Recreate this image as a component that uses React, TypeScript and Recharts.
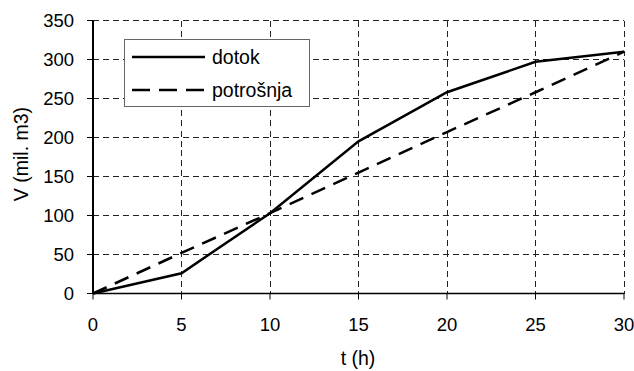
import { LineChart, Line, XAxis, YAxis, CartesianGrid, Legend, Label } from 'recharts'

const hours = [0, 5, 10, 15, 20, 25, 30]
const dotok = [0, 26, 103, 195, 258, 297, 310]
const potrosnja = [0, 52, 103, 155, 207, 258, 310]
const xTicks = [0, 5, 10, 15, 20, 25, 30]
const yTicks = [0, 50, 100, 150, 200, 250, 300, 350]

const data = hours.map((t, i) => ({ t, dotok: dotok[i], potrosnja: potrosnja[i] }))

const FONT = "'Liberation Sans', Arial, sans-serif"

function XTick({ x, y, payload }: any) {
  return (
    <text x={x} y={y + 29} textAnchor="middle" fontSize={18.5} fontFamily={FONT} fill="#000">
      {payload.value}
    </text>
  )
}

function YTick({ x, y, payload }: any) {
  return (
    <text x={x - 11} y={y + 6.5} textAnchor="end" fontSize={18.5} fontFamily={FONT} fill="#000">
      {payload.value}
    </text>
  )
}

// grid line drawn by CartesianGrid, dark dashes like the source
function GridLine({ x1, y1, x2, y2 }: any) {
  return <line x1={x1} y1={y1} x2={x2} y2={y2} stroke="#222" strokeWidth={1} strokeDasharray="6 4" shapeRendering="crispEdges" />
}

function LegendBox({ payload }: any) {
  const items = payload ?? []
  return (
    <div style={{ width: 186, height: 68, border: '1px solid #666', background: '#fff', boxSizing: 'border-box' }}>
      <svg width={184} height={66}>
        {items.map((it: any, i: number) => {
          const cy = 17 + i * 33
          return (
            <g key={it.value}>
              <line
                x1={7}
                x2={80}
                y1={cy}
                y2={cy}
                stroke="#000"
                strokeWidth={2.5}
                strokeDasharray={i === 1 ? '18 9' : undefined}
              />
              <text x={87} y={cy + 6.5} fontSize={19.5} fontFamily={FONT} fill="#000">
                {it.value}
              </text>
            </g>
          )
        })}
      </svg>
    </div>
  )
}

export default function App() {
  return (
    <div style={{ position: 'absolute', left: 0, top: 0, background: '#fff' }}>
      <LineChart width={634} height={371} data={data} margin={{ top: 20.5, right: 10, left: 0, bottom: 0.5 }}>
        <CartesianGrid horizontal={<GridLine />} vertical={<GridLine />} />
        <XAxis
          dataKey="t"
          type="number"
          domain={[0, 30]}
          ticks={xTicks}
          height={77}
          tickSize={6}
          tick={<XTick />}
          tickLine={{ stroke: '#000' }}
          axisLine={{ stroke: '#000', strokeWidth: 1.5 }}
        >
          <Label
            content={() => (
              <text x={358} y={365} textAnchor="middle" fontSize={19.5} fontFamily={FONT} fill="#000">
                t (h)
              </text>
            )}
          />
        </XAxis>
        <YAxis
          domain={[0, 350]}
          ticks={yTicks}
          width={93}
          tickSize={6}
          tick={<YTick />}
          tickLine={{ stroke: '#000' }}
          axisLine={{ stroke: '#000', strokeWidth: 2 }}
        >
          <Label
            content={() => (
              <text
                x={21}
                y={154}
                transform="rotate(-90 21 154)"
                textAnchor="middle"
                dominantBaseline="central"
                fontSize={19.5}
                fontFamily={FONT}
                fill="#000"
              >
                V (mil. m3)
              </text>
            )}
          />
        </YAxis>
        <Legend
          layout="vertical"
          align="center"
          verticalAlign="middle"
          content={<LegendBox />}
          wrapperStyle={{ left: 124, top: 39, width: 186, height: 68 }}
        />
        <Line
          dataKey="dotok"
          name="dotok"
          type="linear"
          stroke="#000"
          strokeWidth={2.5}
          dot={false}
          isAnimationActive={false}
        />
        <Line
          dataKey="potrosnja"
          name="potrošnja"
          type="linear"
          stroke="#000"
          strokeWidth={2.5}
          strokeDasharray="15 9"
          dot={false}
          isAnimationActive={false}
        />
      </LineChart>
    </div>
  )
}
